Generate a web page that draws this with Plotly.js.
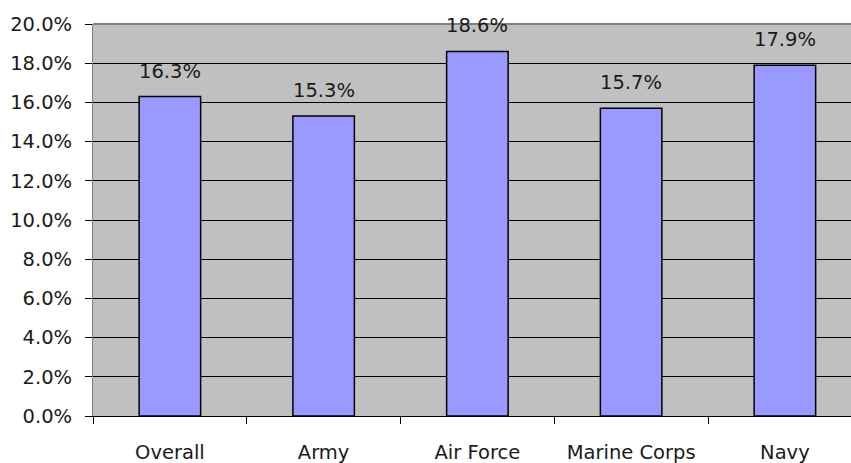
<!DOCTYPE html>
<html>
<head>
<meta charset="utf-8">
<script src="https://cdn.plot.ly/plotly-3.0.1.min.js"></script>
<style>html,body{margin:0;padding:0;background:#fff;}#chart{width:851px;height:463px;}</style>
</head>
<body>
<div id="chart"></div>
<script>
const categories = ["Overall", "Army", "Air Force", "Marine Corps", "Navy"];
const values = [16.3, 15.3, 18.6, 15.7, 17.9];
const valueLabels = ["16.3%", "15.3%", "18.6%", "15.7%", "17.9%"];
const yTickVals = [0, 2, 4, 6, 8, 10, 12, 14, 16, 18, 20];
const yTickText = ["0.0%", "2.0%", "4.0%", "6.0%", "8.0%", "10.0%", "12.0%", "14.0%", "16.0%", "18.0%", "20.0%"];

const font = {family: "DejaVu Sans, sans-serif", size: 19.5, color: "#1a1a1a"};

const trace = {
  type: "bar",
  x: categories,
  y: values,
  width: 0.4,
  marker: {color: "#9999FF", line: {color: "#000", width: 1.5}},
  hoverinfo: "none"
};

const annotations = categories.map((c, i) => ({
  x: c, y: values[i], text: valueLabels[i], showarrow: false,
  xref: "x", yref: "y", yanchor: "bottom", yshift: 12,
  font: font
}));

const layout = {
  width: 851, height: 463,
  margin: {l: 93, r: 0, t: 24, b: 47, pad: 0},
  paper_bgcolor: "#fff",
  plot_bgcolor: "#C0C0C0",
  font: font,
  showlegend: false,
  xaxis: {
    type: "category",
    range: [-0.5, 4.43],
    ticks: "outside", tickson: "boundaries", ticklen: 7, tickcolor: "#000", tickwidth: 1,
    ticklabelstandoff: 19,
    showline: true, linecolor: "#000", linewidth: 1,
    showgrid: false, fixedrange: true,
    tickfont: font
  },
  yaxis: {
    range: [0, 20],
    tickmode: "array",
    tickvals: yTickVals,
    ticktext: yTickText,
    ticks: "outside", ticklen: 7, tickcolor: "#000", tickwidth: 1,
    ticklabelstandoff: 9,
    showline: true, linecolor: "#808080", linewidth: 1,
    showgrid: true, gridcolor: "#000", gridwidth: 1,
    zeroline: true, zerolinecolor: "#000", zerolinewidth: 1,
    fixedrange: true,
    tickfont: font
  },
  shapes: [{type: "line", xref: "paper", yref: "paper", x0: 0, x1: 1, y0: 1, y1: 1,
            line: {color: "#808080", width: 2}}],
  annotations: annotations
};

Plotly.newPlot("chart", [trace], layout, {displayModeBar: false, staticPlot: true});
</script>
</body>
</html>
